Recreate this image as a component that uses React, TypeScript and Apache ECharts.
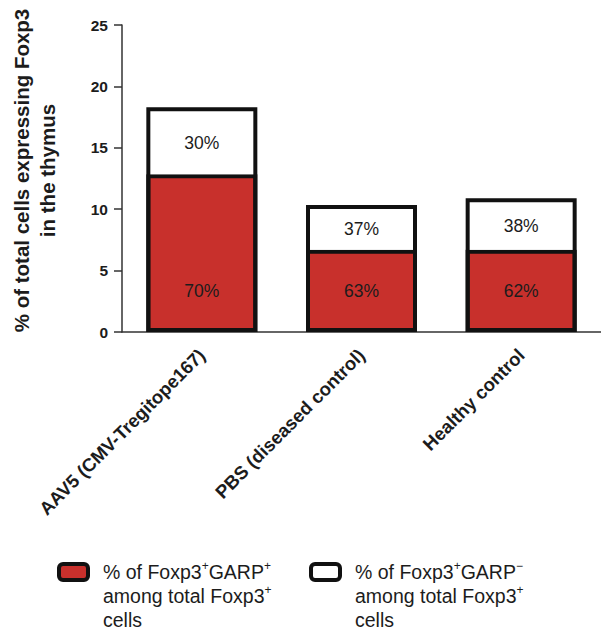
import React, { useEffect, useRef } from "react";
import * as echarts from "echarts";

const categories = ["AAV5 (CMV-Tregitope167)", "PBS (diseased control)", "Healthy control"];
const garpPosValues = [12.85, 6.7, 6.7];
const garpNegValues = [5.45, 3.65, 4.2];
const garpPosPct = [70, 63, 62];
const garpNegPct = [30, 37, 38];
const yTicks = { min: 0, max: 25, interval: 5 };
const seriesNames = ["GARP+", "GARP-"];

const FONT = "'Liberation Sans', Arial, Helvetica, sans-serif";
const INK = "#1c1c1c";
const BAR_W = 111;

export default function App() {
  const ref = useRef<HTMLDivElement>(null);
  useEffect(() => {
    if (!ref.current) return;
    const chart = echarts.init(ref.current, undefined, { renderer: "svg" });
    const totals = garpPosValues.map((v, i) => v + garpNegValues[i]);
    const legendText = {
      fontFamily: FONT,
      fontSize: 19.5,
      color: INK,
      lineHeight: 24,
      padding: [48, 0, 0, 10],
      rich: {
        sup: { fontSize: 12, fontFamily: FONT, color: INK, verticalAlign: "top", lineHeight: 14 },
      },
    };
    const legendBase = {
      top: 512,
      padding: 0,
      icon: "roundRect",
      itemWidth: 29,
      itemHeight: 16,
      itemStyle: { borderColor: "#111", borderWidth: 4 },
      selectedMode: false,
      textStyle: legendText,
    };
    chart.setOption({
      animation: false,
      textStyle: { fontFamily: FONT },
      grid: { left: 113.5, right: 0, top: 25, bottom: 311, containLabel: false },
      legend: [
        {
          ...legendBase,
          data: [seriesNames[0]],
          left: 57,
          formatter: () => "% of Foxp3{sup|+}GARP{sup|+}\namong total Foxp3{sup|+}\ncells",
        },
        {
          ...legendBase,
          data: [seriesNames[1]],
          left: 309,
          formatter: () => "% of Foxp3{sup|+}GARP{sup|−}\namong total Foxp3{sup|+}\ncells",
        },
      ],
      xAxis: {
        type: "category",
        data: categories,
        axisLine: { lineStyle: { color: "#333", width: 1.5 } },
        axisTick: { alignWithLabel: true, length: 8, lineStyle: { color: "#333", width: 1.5 } },
        axisLabel: {
          rotate: 45,
          margin: 20,
          interval: 0,
          fontSize: 18.5,
          fontWeight: "bold",
          color: INK,
          fontFamily: FONT,
        },
      },
      yAxis: {
        type: "value",
        min: yTicks.min,
        max: yTicks.max,
        interval: yTicks.interval,
        name: "% of total cells expressing Foxp3\nin the thymus",
        nameLocation: "middle",
        nameGap: 62,
        nameTextStyle: {
          fontSize: 20.5,
          fontWeight: "bold",
          color: INK,
          lineHeight: 26,
          fontFamily: FONT,
          padding: [0, 0, 0, 16],
        },
        axisLine: { show: true, lineStyle: { color: "#333", width: 1.5 } },
        axisTick: { show: true, length: 8, lineStyle: { color: "#333", width: 1.5 } },
        splitLine: { show: false },
        axisLabel: { margin: 14, fontSize: 15.5, fontWeight: "bold", color: INK, fontFamily: FONT },
      },
      series: [
        {
          name: seriesNames[0],
          type: "bar",
          stack: "total",
          barWidth: BAR_W,
          barGap: "-100%",
          data: garpPosValues,
          itemStyle: { color: "#c8302c", borderColor: "#111", borderWidth: 4 },
          label: {
            show: true,
            position: "insideBottom",
            distance: 32,
            fontSize: 17.5,
            color: INK,
            fontFamily: FONT,
            formatter: (p: any) => garpPosPct[p.dataIndex] + "%",
          },
        },
        {
          name: seriesNames[1],
          type: "bar",
          stack: "total",
          barWidth: BAR_W,
          barGap: "-100%",
          data: garpNegValues,
          itemStyle: { color: "#ffffff", borderWidth: 0 },
          label: {
            show: true,
            position: "inside",
            offset: [0, 2],
            fontSize: 17.5,
            color: INK,
            fontFamily: FONT,
            formatter: (p: any) => garpNegPct[p.dataIndex] + "%",
          },
        },
        {
          name: "outline",
          type: "bar",
          barWidth: BAR_W,
          barGap: "-100%",
          data: totals,
          silent: true,
          z: 3,
          itemStyle: { color: "rgba(0,0,0,0)", borderColor: "#111", borderWidth: 4 },
          label: { show: false },
        },
      ],
    });
    return () => chart.dispose();
  }, []);
  return (
    <div
      ref={ref}
      style={{ position: "fixed", left: 0, top: 0, width: 601, height: 643, background: "#fff" }}
    />
  );
}
